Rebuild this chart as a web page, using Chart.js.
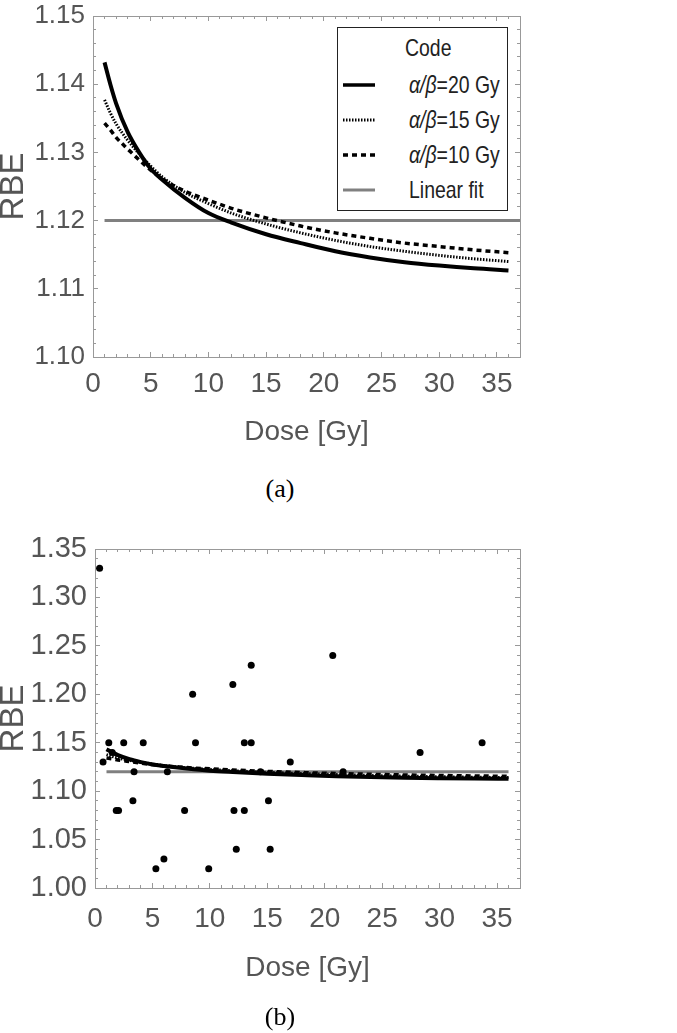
<!DOCTYPE html>
<html>
<head>
<meta charset="utf-8">
<script src="https://cdn.jsdelivr.net/npm/chart.js@4.4.1/dist/chart.umd.min.js"></script>
<style>
  body { margin: 0; background: #fff; }
  .panel { position: absolute; left: 0; width: 677px; }
  #panelA { top: 0; height: 462px; }
  #panelB { top: 533px; height: 470px; }
  .caption { position: absolute; left: 250px; width: 60px; height: 30px; line-height: 30px; text-align: center;
             font-family: "Liberation Serif", "Times New Roman", serif; font-size: 26px; color: #000; }
  #legendA { position: absolute; width: 171px; height: 184px; box-sizing: border-box; background: #fff;
             border: 1px solid #222; color: #222; white-space: nowrap;
             font-family: "Liberation Sans", sans-serif; font-size: 24px; }
  #legendA .ltitle { height: 39px; line-height: 39px; padding-left: 67px; }
  #legendA .row { height: 35px; display: flex; align-items: center; }
  #legendA svg { margin-left: 5px; margin-right: 34px; flex: none; }
  #legendA .txt, #legendA .ltitle span { display: inline-block; transform: scaleX(0.81); transform-origin: left center; }
</style>
</head>
<body>
<div class="panel" id="panelA"><canvas id="chartA"></canvas><div id="legendA"></div></div>
<div class="caption" style="top:474px">(a)</div>
<div class="panel" id="panelB"><canvas id="chartB"></canvas></div>
<div class="caption" style="top:1002px">(b)</div>
<script>
// model curves
var doses = [1, 1.5, 2, 3, 4, 5, 6, 8, 10, 12, 15, 18, 21, 24, 27, 30, 33, 36];
var rbe20 = [1.1432, 1.1400, 1.1372, 1.1330, 1.1300, 1.1276, 1.1260, 1.1233, 1.1211, 1.1197, 1.1180, 1.1167, 1.1155, 1.1146, 1.1139, 1.1134, 1.1130, 1.1127];
var rbe15 = [1.1377, 1.1358, 1.1342, 1.1318, 1.1298, 1.1280, 1.1264, 1.1241, 1.1225, 1.1211, 1.1195, 1.1182, 1.1171, 1.1162, 1.1155, 1.1149, 1.1144, 1.1140];
var rbe10 = [1.1343, 1.1333, 1.1322, 1.1305, 1.1289, 1.1274, 1.1261, 1.1243, 1.1230, 1.1218, 1.1204, 1.1192, 1.1182, 1.1174, 1.1167, 1.1162, 1.1157, 1.1153];

// linear fit (constant)
var fitRbe = 1.12;
var fitDoseA = [1, 37];
var fitDoseB = [1, 36];

// experimental points, panel (b)
var expDose = [0.4, 0.7, 1.2, 1.5, 1.85, 2.05, 2.5, 3.3, 3.4, 4.2, 5.3, 6.0, 6.3, 7.8, 8.5, 8.75, 9.9, 12.0, 12.1, 12.3, 13.0, 13.0, 13.6, 13.6, 14.4, 15.1, 15.25, 17.0, 20.7, 21.6, 28.3, 33.7];
var expRbe = [1.33, 1.13, 1.15, 1.14, 1.08, 1.08, 1.15, 1.09, 1.12, 1.15, 1.02, 1.03, 1.12, 1.08, 1.20, 1.15, 1.02, 1.21, 1.08, 1.04, 1.15, 1.08, 1.23, 1.15, 1.12, 1.09, 1.04, 1.13, 1.24, 1.12, 1.14, 1.15];

var labelGrey = '#555';
var frameGrey = '#999';

Chart.defaults.font.family = '"Liberation Sans", sans-serif';
Chart.defaults.color = labelGrey;
Chart.defaults.animation = false;

function pts(xs, ys) {
    return xs.map(function (x, i) { return { x: x, y: ys[i] }; });
}

function curveSets() {
    return [
        { label: 'α/β=20 Gy', data: pts(doses, rbe20), borderColor: '#000', borderWidth: 4 },
        { label: 'α/β=15 Gy', data: pts(doses, rbe15), borderColor: '#000', borderWidth: 3, borderDash: [1.5, 1.5] },
        { label: 'α/β=10 Gy', data: pts(doses, rbe10), borderColor: '#000', borderWidth: 3.5, borderDash: [5, 4] }
    ].map(function (d) {
        d.showLine = true; d.pointRadius = 0; d.cubicInterpolationMode = 'monotone'; d.fill = false;
        return d;
    });
}

function fitSet(xs) {
    return { label: 'Linear fit', data: xs.map(function (x) { return { x: x, y: fitRbe }; }),
             showLine: true, pointRadius: 0, borderColor: '#808080', borderWidth: 3 };
}

function noPad(sc) {
    sc.paddingTop = 0; sc.paddingBottom = 0; sc.paddingLeft = 0; sc.paddingRight = 0;
}

// frame with inward major + minor ticks on all four sides
function frameScales(o) {
    function side(axis, pos, step, len, weight, major) {
        return {
            type: 'linear', axis: axis, position: pos, weight: weight,
            min: axis === 'x' ? 0 : o.yMin, max: axis === 'x' ? o.xMax : o.yMax,
            grid: { drawOnChartArea: false, drawTicks: true, tickLength: -len, tickColor: frameGrey, tickWidth: 1 },
            border: { display: major, color: frameGrey, width: 1 },
            ticks: { display: false, stepSize: step, includeBounds: false, autoSkip: false },
            afterFit: function (sc) { if (axis === 'x') sc.height = 0; else sc.width = 0; noPad(sc); }
        };
    }
    var x = side('x', 'bottom', 5, 5, 1, true);
    x.ticks = { display: true, stepSize: 5, includeBounds: false, autoSkip: false, maxRotation: 0,
                padding: o.xPad, color: labelGrey, font: { size: 28, lineHeight: 1 } };
    x.title = { display: true, text: 'Dose [Gy]', color: labelGrey, font: { size: 28 },
                padding: { top: 0, bottom: o.titlePad } };
    x.afterFit = function (sc) { sc.height = o.axisH; noPad(sc); };

    var y = side('y', 'left', o.yMajor, 5, 1, true);
    y.ticks = { display: true, stepSize: o.yMajor, includeBounds: false, autoSkip: false,
                padding: 13, color: labelGrey, font: { size: o.yFont, lineHeight: 1 },
                callback: function (v) { return v.toFixed(2); } };
    y.title = { display: true, text: 'RBE', color: labelGrey,
                font: { size: 33, lineHeight: 0.85 }, padding: { top: 0, bottom: 0 } };
    y.afterFit = function (sc) { sc.width = o.leftW; noPad(sc); };

    return {
        x: x,
        xMinor: side('x', 'bottom', 1, 3, 0, false),
        xTop: side('x', 'top', 5, 5, 1, true),
        xTopMinor: side('x', 'top', 1, 3, 0, false),
        y: y,
        yMinor: side('y', 'left', o.yMinor, 3, 0, false),
        yRight: side('y', 'right', o.yMajor, 5, 1, true),
        yRightMinor: side('y', 'right', o.yMinor, 3, 0, false)
    };
}

function baseOptions(scales) {
    return {
        responsive: true,
        maintainAspectRatio: false,
        layout: { padding: { left: 0, top: 16, right: 157, bottom: 0 } },
        plugins: { legend: { display: false }, tooltip: { enabled: false } },
        scales: scales
    };
}

var chartA = new Chart(document.getElementById('chartA'), {
    type: 'scatter',
    data: { datasets: curveSets().concat([fitSet(fitDoseA)]) },
    options: baseOptions(frameScales({ xMax: 37, yMin: 1.10, yMax: 1.15, yMajor: 0.01, yMinor: 0.002,
                                       yFont: 26, leftW: 93, axisH: 105, xPad: 18, titlePad: 13 }))
});

var chartB = new Chart(document.getElementById('chartB'), {
    type: 'scatter',
    data: {
        datasets: [{ label: 'Data', data: pts(expDose, expRbe), pointRadius: 3.5, pointBorderWidth: 0,
                     backgroundColor: '#000', borderColor: '#000', showLine: false }]
            .concat(curveSets()).concat([fitSet(fitDoseB)])
    },
    options: baseOptions(frameScales({ xMax: 37, yMin: 1.00, yMax: 1.35, yMajor: 0.05, yMinor: 0.01,
                                       yFont: 29, leftW: 95, axisH: 115, xPad: 22, titlePad: 18 }))
});

// html legend for panel (a), built from the chart's datasets
function buildLegend(chart, el) {
    var area = chart.chartArea;
    el.style.left = (area.right - 12 - 171) + 'px';
    el.style.top = (area.top + 11) + 'px';
    var html = '<div class="ltitle"><span>Code</span></div>';
    chart.data.datasets.forEach(function (ds) {
        var dash = (ds.borderDash || []).join(' ');
        html += '<div class="row"><svg width="32" height="10"><line x1="0" y1="5" x2="32" y2="5" stroke="' +
            ds.borderColor + '" stroke-width="' + Math.min(ds.borderWidth, 3.5) + '" stroke-dasharray="' + dash +
            '"/></svg><span class="txt">' + ds.label.replace('α/β', '<i>α/β</i>') + '</span></div>';
    });
    el.innerHTML = html;
}
buildLegend(chartA, document.getElementById('legendA'));
</script>
</body>
</html>
